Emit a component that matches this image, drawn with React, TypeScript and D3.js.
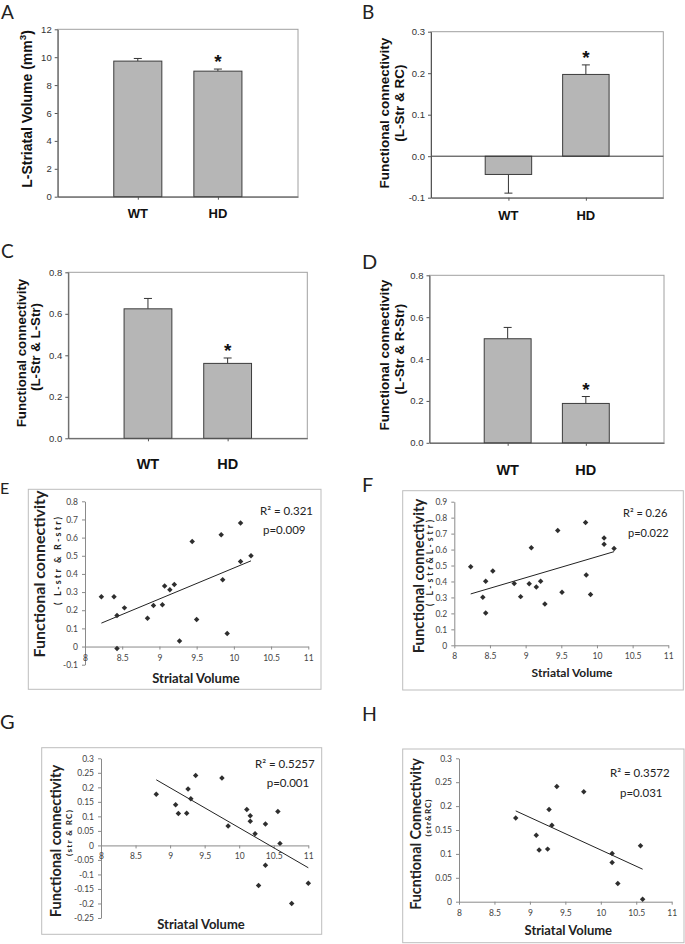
import React, { useEffect, useRef } from 'react';
import * as d3 from 'd3';

const groups = ['WT', 'HD'];

// A: left striatal volume (mm3), mean and error
const volumeMean = [9.72, 9.0];
const volumeErr = [0.19, 0.15];
// B: L-Str & RC
const rcMean = [-0.044, 0.197];
const rcErr = [0.045, 0.023];
// C: L-Str & L-Str
const lStrMean = [0.624, 0.361];
const lStrErr = [0.05, 0.026];
// D: L-Str & R-Str
const rStrMean = [0.497, 0.188];
const rStrErr = [0.054, 0.033];

const ticksA = [0, 2, 4, 6, 8, 10, 12];
const ticksB = [-0.1, 0, 0.1, 0.2, 0.3];
const ticksCD = [0, 0.2, 0.4, 0.6, 0.8];

// E-H: striatal volume vs functional connectivity
const volumeTicks = [8, 8.5, 9, 9.5, 10, 10.5, 11];

const volE = [8.22, 8.39, 8.43, 8.53, 8.43, 8.84, 8.92, 9.04, 9.07, 9.14, 9.2, 9.27, 9.44, 9.5, 9.83, 9.85, 9.91, 10.09, 10.09, 10.23];
const connE = [0.274, 0.274, 0.171, 0.213, -0.011, 0.156, 0.226, 0.23, 0.333, 0.313, 0.342, 0.031, 0.579, 0.149, 0.616, 0.368, 0.072, 0.68, 0.469, 0.5];
const fitE = [[8.22, 0.129], [10.23, 0.472]];
const ticksE = [-0.1, 0, 0.1, 0.2, 0.3, 0.4, 0.5, 0.6, 0.7, 0.8];

const volF = [8.23, 8.4, 8.44, 8.44, 8.54, 8.84, 8.93, 9.05, 9.08, 9.15, 9.21, 9.27, 9.45, 9.51, 9.84, 9.85, 9.91, 10.1, 10.1, 10.24];
const connF = [0.493, 0.301, 0.401, 0.203, 0.466, 0.388, 0.305, 0.386, 0.612, 0.365, 0.401, 0.259, 0.72, 0.332, 0.77, 0.44, 0.319, 0.672, 0.633, 0.607];
const fitF = [[8.23, 0.322], [10.24, 0.587]];
const ticksF = [0, 0.1, 0.2, 0.3, 0.4, 0.5, 0.6, 0.7, 0.8, 0.9];

const volG = [8.8, 9.08, 9.12, 9.24, 9.26, 9.3, 9.37, 9.75, 9.84, 10.11, 10.16, 10.16, 10.23, 10.28, 10.38, 10.38, 10.56, 10.59, 10.76, 11.0];
const connG = [0.176, 0.14, 0.11, 0.111, 0.194, 0.161, 0.241, 0.232, 0.067, 0.124, 0.102, 0.083, 0.04, -0.138, 0.074, -0.068, 0.117, 0.007, -0.2, -0.13];
const fitG = [[8.8, 0.226], [11.0, -0.077]];
const ticksG = [-0.25, -0.2, -0.15, -0.1, -0.05, 0, 0.05, 0.1, 0.15, 0.2, 0.25, 0.3];

const volH = [8.8, 9.09, 9.13, 9.25, 9.27, 9.31, 9.38, 9.76, 10.16, 10.16, 10.24, 10.56, 10.59];
const connH = [0.175, 0.139, 0.108, 0.11, 0.193, 0.16, 0.241, 0.23, 0.101, 0.082, 0.038, 0.117, 0.005];
const fitH = [[8.8, 0.19], [10.59, 0.068]];
const ticksH = [0, 0.05, 0.1, 0.15, 0.2, 0.25, 0.3];

const ARIAL = '"Liberation Sans", Arial, sans-serif';
const CALIBRI = 'Lato, "Open Sans", sans-serif';

const letters = [
    { t: 'A', x: 1, y: 19, size: 19 },
    { t: 'B', x: 362, y: 19, size: 19 },
    { t: 'C', x: 1, y: 258, size: 19 },
    { t: 'D', x: 362, y: 269, size: 20 },
    { t: 'E', x: 0, y: 494, size: 16 },
    { t: 'F', x: 362, y: 492, size: 20 },
    { t: 'G', x: 0, y: 729, size: 20 },
    { t: 'H', x: 362, y: 721, size: 19.5 },
];

const barPanels = [
    {
        box: [57.7, 29.3, 298, 196.7], domain: [0, 12], ticks: ticksA, fmt: (d) => String(d),
        mean: volumeMean, err: volumeErr, catY: 218, catSize: 13,
        titles: [{ parts: [['L-Striatal Volume (mm', false], ['3', true], [')', false]], x: 32, y: 109, size: 14 }],
    },
    {
        box: [431, 31.7, 663.3, 197.7], domain: [-0.1, 0.3], ticks: ticksB, fmt: (d) => d.toFixed(1),
        mean: rcMean, err: rcErr, catY: 220, catSize: 13,
        titles: [
            { parts: [['Functional connectivity', false]], x: 389, y: 113, size: 13.5 },
            { parts: [['(L-Str & RC)', false]], x: 404, y: 103, size: 13.5 },
        ],
    },
    {
        box: [68.3, 272.3, 307.3, 438.3], domain: [0, 0.8], ticks: ticksCD, fmt: (d) => d.toFixed(1),
        mean: lStrMean, err: lStrErr, catY: 469, catSize: 14.5,
        titles: [
            { parts: [['Functional connectivity', false]], x: 26, y: 353, size: 13.3 },
            { parts: [['(L-Str & L-Str)', false]], x: 39.5, y: 347, size: 13.3 },
        ],
    },
    {
        box: [429.5, 275.3, 664, 442.8], domain: [0, 0.8], ticks: ticksCD, fmt: (d) => d.toFixed(1),
        mean: rStrMean, err: rStrErr, catY: 475, catSize: 14.5,
        titles: [
            { parts: [['Functional connectivity', false]], x: 389, y: 355, size: 13.5 },
            { parts: [['(L-Str & R-Str)', false]], x: 404, y: 349, size: 13.5 },
        ],
    },
];

const scatterPanels = [
    {
        frame: [28.3, 489.3, 321, 689.3], plot: [85, 501.3, 308.3, 664.7], yDomain: [-0.1, 0.8], yTicks: ticksE,
        vol: volE, conn: connE, fit: fitE,
        xTitle: { x: 196, y: 683, size: 13 },
        yTitle1: { t: 'Functional connectivity', x: 45, y: 574, size: 16 },
        yTitle2: { t: '( L-str & R-str)', x: 60.5, y: 561, size: 9, len: 88 },
        stats: [{ t: 'R² = 0.321', x: 260, y: 515 }, { t: 'p=0.009', x: 263, y: 534 }], statSize: 11.5,
    },
    {
        frame: [402.7, 490.7, 683.3, 690], plot: [454.3, 501.7, 668.3, 645.3], yDomain: [0, 0.9], yTicks: ticksF,
        vol: volF, conn: connF, fit: fitF,
        xTitle: { x: 572, y: 677.3, size: 12 },
        yTitle1: { t: 'Functional connectivity', x: 424, y: 576, size: 14.8 },
        yTitle2: { t: '( L-str&L-str)', x: 433, y: 563, size: 8.5, len: 86 },
        stats: [{ t: 'R² = 0.26', x: 623, y: 517.3 }, { t: 'p=0.022', x: 628, y: 537.3 }], statSize: 11,
    },
    {
        frame: [41.7, 747.7, 321.7, 934.3], plot: [101, 758.3, 308.3, 918], yDomain: [-0.25, 0.3], yTicks: ticksG,
        vol: volG, conn: connG, fit: fitG,
        xTitle: { x: 201, y: 929.3, size: 13 },
        yTitle1: { t: 'Functional connectivity', x: 61, y: 841, size: 14.6 },
        yTitle2: { t: '(str & RC)', x: 71.5, y: 833, size: 8, len: 46 },
        stats: [{ t: 'R² = 0.5257', x: 255, y: 768.3 }, { t: 'p=0.001', x: 266.7, y: 787.3 }], statSize: 11.5,
    },
    {
        frame: [402.7, 749, 684, 942.7], plot: [459, 758.3, 671.7, 901.7], yDomain: [0, 0.3], yTicks: ticksH,
        vol: volH, conn: connH, fit: fitH,
        xTitle: { x: 568.3, y: 935, size: 13 },
        yTitle1: { t: 'Fucntional Connectivity', x: 421, y: 834, size: 14.3 },
        yTitle2: { t: '(str&RC)', x: 430.5, y: 818, size: 8, len: 37 },
        stats: [{ t: 'R² = 0.3572', x: 610, y: 777.3 }, { t: 'p=0.031', x: 620, y: 797.3 }], statSize: 11.5,
    },
];

function drawBars(svg, p) {
    const [x0, y0, x1, y1] = p.box;
    const x = d3.scalePoint().domain(groups).range([x0, x1]).padding(1);
    const y = d3.scaleLinear().domain(p.domain).range([y1, y0]);
    const bw = x.step() * 0.6;
    const g = svg.append('g');

    // frame
    g.append('rect')
        .attr('x', x0).attr('y', y0)
        .attr('width', x1 - x0).attr('height', y1 - y0)
        .attr('fill', 'none').attr('stroke', '#a0a0a0');

    const rows = groups.map((k, i) => {
        const m = p.mean[i];
        return { k, m, top: m + (m < 0 ? -p.err[i] : p.err[i]) };
    });

    // error bars (behind the bars)
    const eb = g.selectAll('g.err').data(rows).join('g').attr('stroke', '#333').attr('stroke-width', 1);
    eb.append('line')
        .attr('x1', d => x(d.k)).attr('x2', d => x(d.k))
        .attr('y1', d => y(d.m)).attr('y2', d => y(d.top));
    eb.append('line')
        .attr('x1', d => x(d.k) - 4).attr('x2', d => x(d.k) + 4)
        .attr('y1', d => y(d.top)).attr('y2', d => y(d.top));

    g.selectAll('rect.bar').data(rows).join('rect')
        .attr('x', d => x(d.k) - bw / 2)
        .attr('y', d => Math.min(y(d.m), y(0)))
        .attr('width', bw)
        .attr('height', d => Math.abs(y(d.m) - y(0)))
        .attr('fill', '#b6b6b6')
        .attr('stroke', '#3c3c3c');

    if (p.domain[0] < 0) {
        g.append('line')
            .attr('x1', x0).attr('x2', x1)
            .attr('y1', y(0)).attr('y2', y(0))
            .attr('stroke', '#333');
    }

    // left axis
    const ya = g.append('g')
        .attr('transform', `translate(${x0},0)`)
        .call(d3.axisLeft(y).tickValues(p.ticks).tickFormat(p.fmt).tickSize(3).tickSizeOuter(0).tickPadding(3));
    ya.select('.domain').attr('stroke', '#555');
    ya.selectAll('.tick line').attr('stroke', '#555');
    ya.selectAll('text').attr('font-family', ARIAL).attr('font-size', 9.5).attr('fill', '#333');

    // bottom axis ticks
    const xa = g.append('g')
        .attr('transform', `translate(0,${y1})`)
        .call(d3.axisBottom(x).tickSize(3).tickSizeOuter(0).tickFormat(() => ''));
    xa.select('.domain').attr('stroke', '#555');
    xa.selectAll('.tick line').attr('stroke', '#555');

    g.selectAll('text.cat').data(groups).join('text')
        .attr('x', d => x(d)).attr('y', p.catY)
        .attr('text-anchor', 'middle')
        .attr('font-family', ARIAL).attr('font-weight', 'bold')
        .attr('font-size', p.catSize).attr('fill', '#111')
        .text(d => d);

    // significance marker over HD
    const hd = rows[1];
    g.append('text')
        .attr('x', x(hd.k)).attr('y', y(hd.top) - 1)
        .attr('text-anchor', 'middle')
        .attr('font-family', ARIAL).attr('font-weight', 'bold')
        .attr('font-size', 19).attr('fill', '#111')
        .text('*');

    p.titles.forEach(tl => {
        const t = g.append('text')
            .attr('transform', `translate(${tl.x},${tl.y}) rotate(-90)`)
            .attr('text-anchor', 'middle')
            .attr('font-family', ARIAL).attr('font-weight', 'bold')
            .attr('font-size', tl.size).attr('fill', '#111');
        tl.parts.forEach(([s, sup]) => {
            const ts = t.append('tspan').text(s);
            if (sup) ts.attr('font-size', tl.size * 0.7).attr('dy', -tl.size * 0.4);
            else if (s === ')') ts.attr('dy', tl.size * 0.4);
        });
    });
}

function drawScatter(svg, p) {
    const [px0, py0, px1, py1] = p.plot;
    const g = svg.append('g');
    const [fx0, fy0, fx1, fy1] = p.frame;
    g.append('rect')
        .attr('x', fx0).attr('y', fy0)
        .attr('width', fx1 - fx0).attr('height', fy1 - fy0)
        .attr('fill', 'none').attr('stroke', '#bdbdbd');

    const x = d3.scaleLinear().domain([8, 11]).range([px0, px1]);
    const y = d3.scaleLinear().domain(p.yDomain).range([py1, py0]);

    const ya = g.append('g')
        .attr('transform', `translate(${px0},0)`)
        .call(d3.axisLeft(y).tickValues(p.yTicks).tickFormat(d => String(d)).tickSize(3).tickSizeOuter(0).tickPadding(4));
    const xa = g.append('g')
        .attr('transform', `translate(0,${y(0)})`)
        .call(d3.axisBottom(x).tickValues(volumeTicks).tickFormat(d => String(d)).tickSize(3).tickSizeOuter(0).tickPadding(5));
    [ya, xa].forEach(a => {
        a.select('.domain').attr('stroke', '#8a8a8a');
        a.selectAll('.tick line').attr('stroke', '#8a8a8a');
        a.selectAll('text').attr('font-family', CALIBRI).attr('font-size', 8.5).attr('fill', '#444');
    });

    g.append('path')
        .datum(p.fit)
        .attr('d', d3.line().x(d => x(d[0])).y(d => y(d[1])))
        .attr('fill', 'none').attr('stroke', '#222').attr('stroke-width', 1);

    const diamond = d3.symbol(d3.symbolSquare, 15);
    g.selectAll('path.pt').data(d3.zip(p.vol, p.conn)).join('path')
        .attr('transform', d => `translate(${x(d[0])},${y(d[1])}) rotate(45)`)
        .attr('d', diamond)
        .attr('fill', '#2e2e2e');

    g.append('text')
        .attr('x', p.xTitle.x).attr('y', p.xTitle.y)
        .attr('text-anchor', 'middle')
        .attr('font-family', CALIBRI).attr('font-weight', 'bold')
        .attr('font-size', p.xTitle.size).attr('fill', '#222')
        .text('Striatal Volume');

    g.append('text')
        .attr('transform', `translate(${p.yTitle1.x},${p.yTitle1.y}) rotate(-90)`)
        .attr('text-anchor', 'middle')
        .attr('font-family', CALIBRI).attr('font-weight', 'bold')
        .attr('font-size', p.yTitle1.size).attr('fill', '#222')
        .text(p.yTitle1.t);

    g.append('text')
        .attr('transform', `translate(${p.yTitle2.x},${p.yTitle2.y}) rotate(-90)`)
        .attr('text-anchor', 'middle')
        .attr('font-family', CALIBRI).attr('font-weight', 'bold')
        .attr('font-size', p.yTitle2.size).attr('fill', '#222')
        .attr('textLength', p.yTitle2.len).attr('lengthAdjust', 'spacing')
        .text(p.yTitle2.t);

    p.stats.forEach(s => {
        g.append('text')
            .attr('x', s.x).attr('y', s.y)
            .attr('font-family', CALIBRI)
            .attr('font-size', p.statSize).attr('fill', '#222')
            .text(s.t);
    });
}

const App = () => {
    const svgRef = useRef(null);

    useEffect(() => {
        const svg = d3.select(svgRef.current);
        svg.selectAll('*').remove();

        svg.append('rect').attr('width', 685).attr('height', 944).attr('fill', '#fff');

        barPanels.forEach(p => drawBars(svg, p));
        scatterPanels.forEach(p => drawScatter(svg, p));

        svg.selectAll('text.letter').data(letters).join('text')
            .attr('x', d => d.x).attr('y', d => d.y)
            .attr('font-family', CALIBRI)
            .attr('font-size', d => d.size).attr('fill', '#222')
            .text(d => d.t);
    }, []);

    return (
        <svg ref={svgRef} width={685} height={944}
            style={{ position: 'absolute', left: 0, top: 0, display: 'block' }} />
    );
};

export default App;
